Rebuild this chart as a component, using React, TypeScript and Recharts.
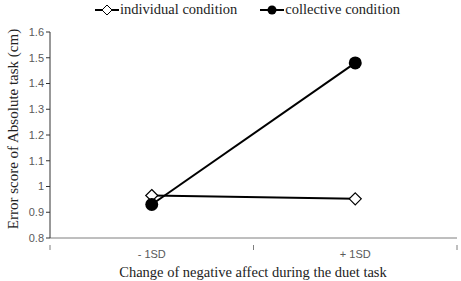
import { Line, LineChart, XAxis, YAxis } from "recharts";

const categories = ["- 1SD", "+ 1SD"];
const individual = [0.965, 0.952];
const collective = [0.93, 1.48];
const yTicks = [0.8, 0.9, 1, 1.1, 1.2, 1.3, 1.4, 1.5, 1.6];
const xTicks = [0, 0.5, 1, 1.5, 2];

const data = categories.map((c, i) => ({ pos: i + 0.5, name: c, individual: individual[i], collective: collective[i] }));

const SERIF = "'Liberation Serif', 'Times New Roman', serif";
const SANS = "'Liberation Sans', Arial, sans-serif";

function XTick(props: any) {
  const { x, y, payload } = props;
  const v = payload.value;
  if (Number.isInteger(v)) {
    return <line x1={x} x2={x} y1={y - 1} y2={y + 4} stroke="#7f7f7f" strokeWidth={1} />;
  }
  return (
    <text x={x} y={y + 12} textAnchor="middle" fontSize={11} fill="#595959" fontFamily={SANS}>
      {categories[Math.floor(v)]}
    </text>
  );
}

function YLabel() {
  return (
    <text x={13} y={129} transform="rotate(-90 13 129)" textAnchor="middle" dominantBaseline="central" fontSize={15} fill="#222" fontFamily={SERIF}>
      Error score of Absolute task (cm)
    </text>
  );
}

function XLabel() {
  return (
    <text x={253} y={277} textAnchor="middle" fontSize={14.5} fill="#222" fontFamily={SERIF}>
      Change of negative affect during the duet task
    </text>
  );
}

function Diamond(props: any) {
  const { cx, cy } = props;
  if (cx == null || cy == null) return null;
  return <path d={`M${cx},${cy - 6}L${cx + 6},${cy}L${cx},${cy + 6}L${cx - 6},${cy}Z`} fill="#fff" stroke="#000" strokeWidth={1.2} />;
}

function Dot(props: any) {
  const { cx, cy } = props;
  if (cx == null || cy == null) return null;
  return <circle cx={cx} cy={cy} r={6.5} fill="#000" />;
}

export default function App() {
  return (
    <div style={{ position: "absolute", left: 0, top: 0, width: 461, height: 281, background: "#fff" }}>
      <LineChart width={461} height={281} data={data} margin={{ top: 32, right: 4, bottom: 0, left: 0 }}>
        <XAxis
          dataKey="pos"
          type="number"
          domain={[0, 2]}
          ticks={xTicks}
          tick={<XTick />}
          tickLine={false}
          axisLine={{ stroke: "#7f7f7f" }}
          height={43}
          interval={0}
          label={<XLabel />}
        />
        <YAxis
          type="number"
          domain={[0.8, 1.6]}
          ticks={yTicks}
          width={50}
          tickSize={4}
          tickLine={{ stroke: "#333" }}
          axisLine={{ stroke: "#333" }}
          tick={{ fontSize: 11, fill: "#595959", fontFamily: SANS }}
          tickFormatter={(v: number) => String(Number(v.toFixed(1)))}
          label={<YLabel />}
        />
        <Line dataKey="individual" stroke="#000" strokeWidth={2} dot={<Diamond />} isAnimationActive={false} />
        <Line dataKey="collective" stroke="#000" strokeWidth={2} dot={<Dot />} isAnimationActive={false} />
      </LineChart>
      <div style={{ position: "absolute", top: 1, left: 94, display: "flex", alignItems: "center", fontFamily: SERIF, fontSize: 14.5, color: "#222" }}>
        <svg width={26} height={14}>
          <line x1={1} x2={25} y1={7} y2={7} stroke="#000" strokeWidth={2} />
          <path d="M13,2L18,7L13,12L8,7Z" fill="#fff" stroke="#000" strokeWidth={1} />
        </svg>
        <span style={{ marginRight: 22 }}>individual condition</span>
        <svg width={26} height={14}>
          <line x1={1} x2={25} y1={7} y2={7} stroke="#000" strokeWidth={2} />
          <circle cx={13} cy={7} r={4.5} fill="#000" />
        </svg>
        <span>collective condition</span>
      </div>
    </div>
  );
}
